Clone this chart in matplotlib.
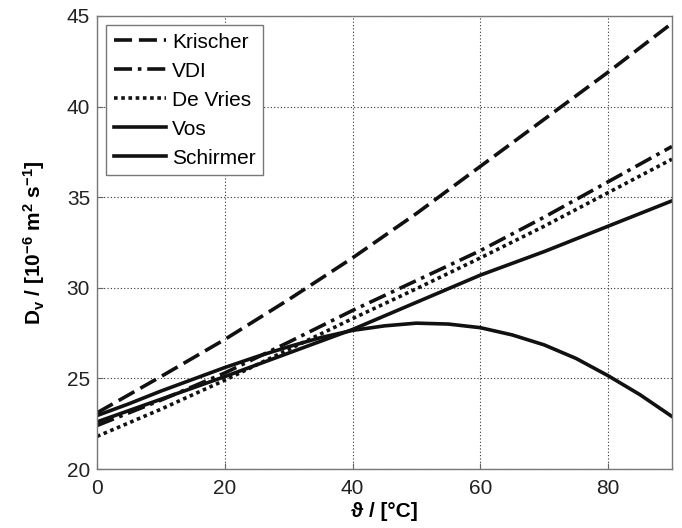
import matplotlib
matplotlib.use("Agg")
import matplotlib.pyplot as plt

plt.rcParams['font.family'] = ['Liberation Sans', 'DejaVu Sans']
plt.rcParams['mathtext.fontset'] = 'custom'
plt.rcParams['mathtext.rm'] = 'Liberation Sans:bold'
plt.rcParams['mathtext.bf'] = 'Liberation Sans:bold'
plt.rcParams['mathtext.it'] = 'Liberation Sans:bold'
plt.rcParams['mathtext.default'] = 'bf'

# temperatures (°C)
T10 = [0, 10, 20, 30, 40, 50, 60, 70, 80, 90]
krischer = [23.1, 25.1, 27.15, 29.35, 31.65, 34.1, 36.7, 39.3, 41.9, 44.6]
vdi = [22.4, 23.8, 25.3, 27.0, 28.75, 30.4, 32.05, 33.9, 35.85, 37.8]
devries = [21.8, 23.3, 24.9, 26.6, 28.3, 29.95, 31.65, 33.4, 35.25, 37.1]
vos = [22.6, 23.85, 25.1, 26.4, 27.7, 29.2, 30.7, 32.0, 33.4, 34.8]

T5 = [0, 5, 10, 15, 20, 25, 30, 35, 40, 45, 50, 55, 60, 65, 70, 75, 80, 85, 90]
schirmer = [22.95, 23.6, 24.3, 24.95, 25.6, 26.2, 26.75, 27.25, 27.65, 27.9, 28.05,
            28.0, 27.8, 27.4, 26.85, 26.1, 25.15, 24.1, 22.9]

series_names = ['Krischer', 'VDI', 'De Vries', 'Vos', 'Schirmer']

fig = plt.figure(figsize=(6.82, 5.28), dpi=100)
ax = fig.add_axes([0.1422, 0.1117, 0.8431, 0.8580])

lw = 2.6
ax.plot(T10, krischer, color='#111111', lw=lw, dashes=(5.0, 1.9), label=series_names[0])
ax.plot(T10, vdi, color='#111111', lw=lw, dashes=(5.0, 1.6, 1.0, 1.6), label=series_names[1])
ax.plot(T10, devries, color='#111111', lw=lw, dashes=(1.0, 1.0), label=series_names[2])
ax.plot(T10, vos, color='#111111', lw=lw, label=series_names[3])
ax.plot(T5, schirmer, color='#111111', lw=lw, label=series_names[4])

ax.set_xlim(0, 90)
ax.set_ylim(20, 45)
ax.set_xticks([0, 20, 40, 60, 80])
ax.set_yticks([20, 25, 30, 35, 40, 45])
ax.grid(True, color='#333333', linestyle=(0, (1, 2)), linewidth=0.8)
ax.tick_params(direction='in', length=4, labelsize=15, color='#666666', pad=5,
               labelcolor='#222222')
ax.tick_params(axis='x', pad=7)
for s in ax.spines.values():
    s.set_color('#777777')
    s.set_linewidth(1.0)

ax.set_xlabel('ϑ / [°C]', fontsize=15, fontweight='bold', labelpad=3)
ax.set_ylabel('D$_{v}$ / [10$^{-6}$ m$^{2}$ s$^{-1}$]', fontsize=15, fontweight='bold', labelpad=14)

leg = ax.legend(loc='upper left', fontsize=15, handlelength=2.5, handletextpad=0.3,
                labelspacing=0.48, borderpad=0.35, fancybox=False, framealpha=1,
                edgecolor='#777777', borderaxespad=0.45)
leg.get_frame().set_linewidth(1.0)

fig.savefig('out.png', dpi=100)
